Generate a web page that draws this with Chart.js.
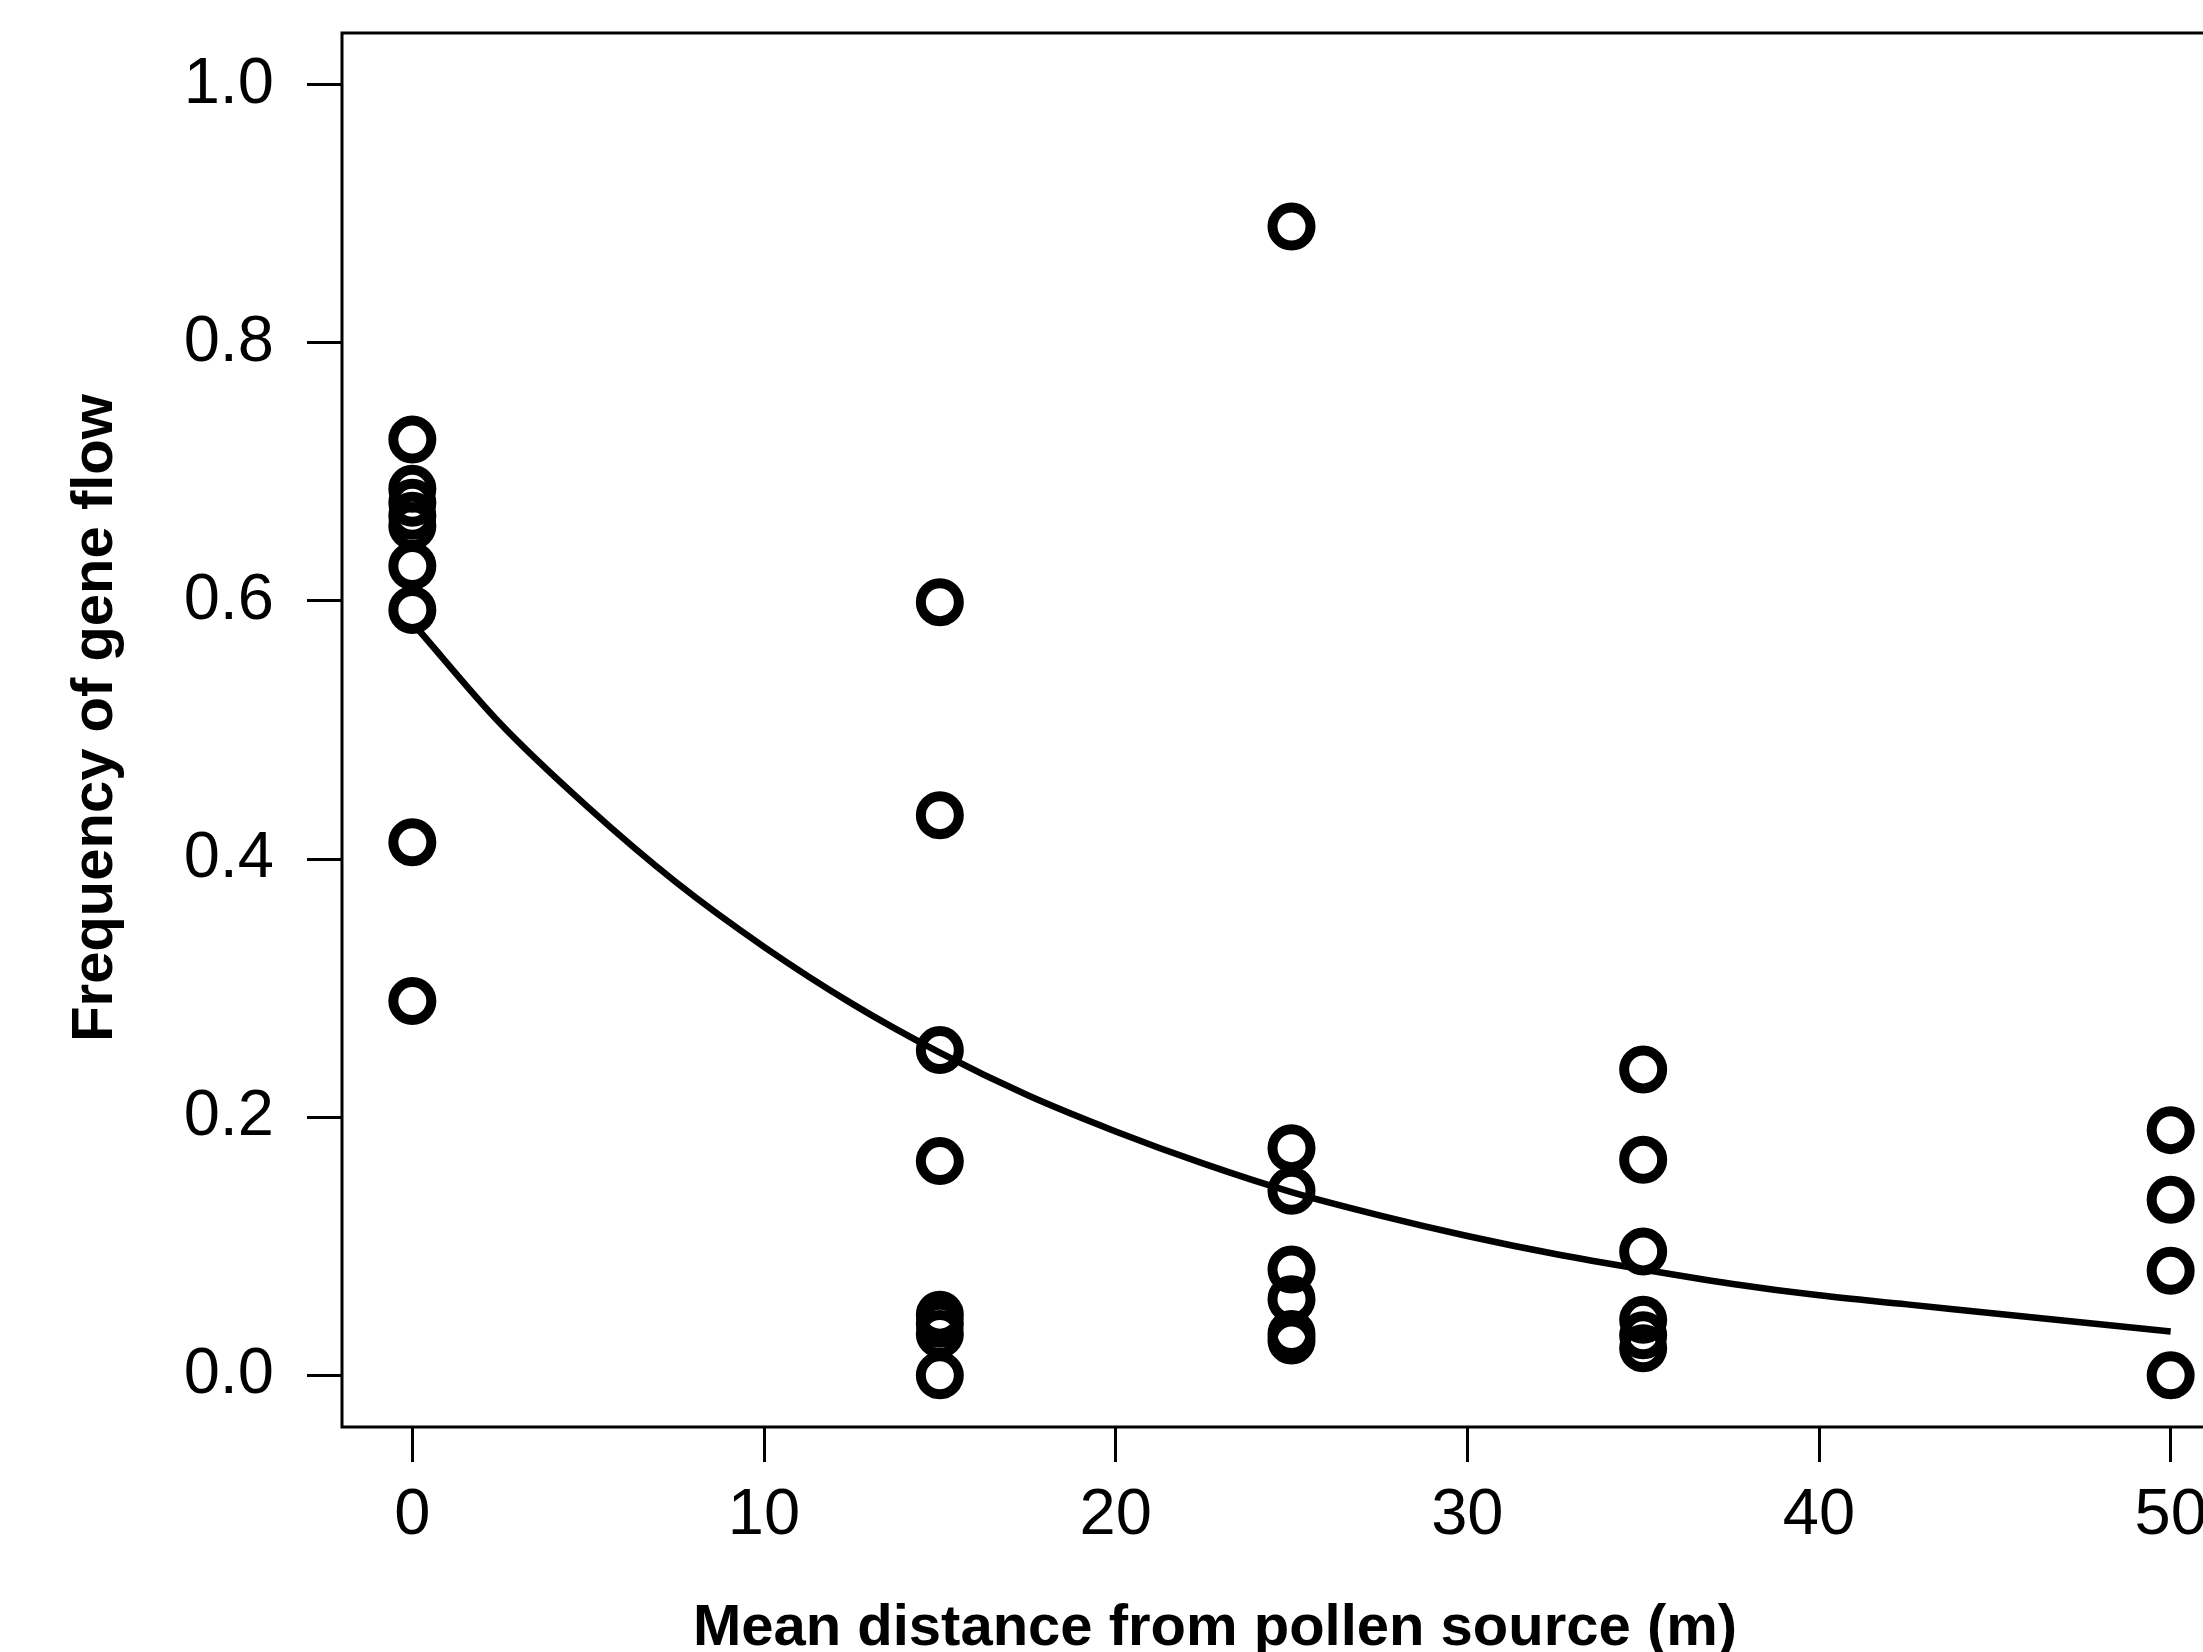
<!DOCTYPE html>
<html>
<head>
<meta charset="utf-8">
<script src="https://cdn.jsdelivr.net/npm/chart.js@4"></script>
<style>
html,body{margin:0;padding:0;background:#fff;overflow:hidden;width:2203px;height:1652px}
#wrap{width:2270px;height:1652px;position:relative}
</style>
</head>
<body>
<div id="wrap"><canvas id="c" width="2270" height="1652"></canvas></div>
<script>
// ---- data ----
const xTitle = 'Mean distance from pollen source (m)';
const yTitle = 'Frequency of gene flow';
const xTickValues = [0, 10, 20, 30, 40, 50];
const yTickValues = [0, 0.2, 0.4, 0.6, 0.8, 1.0];
const yTickLabels = ['0.0', '0.2', '0.4', '0.6', '0.8', '1.0'];

const obsDistance = [0, 0, 0, 0, 0, 0, 0, 0, 0,
                     15, 15, 15, 15, 15, 15, 15, 15,
                     25, 25, 25, 25, 25, 25, 25,
                     35, 35, 35, 35, 35, 35,
                     50, 50, 50, 50];
const obsFrequency = [0.725, 0.687, 0.676, 0.666, 0.658, 0.627, 0.593, 0.413, 0.290,
                      0.599, 0.434, 0.252, 0.166, 0.047, 0.040, 0.032, 0.0,
                      0.890, 0.176, 0.143, 0.082, 0.059, 0.032, 0.027,
                      0.237, 0.167, 0.096, 0.043, 0.031, 0.021,
                      0.190, 0.136, 0.081, 0.0];

const fitDistance = [0.1, 2.5, 5, 7.5, 10, 12.5, 15, 17.5, 20, 22.5, 25, 27.5, 30, 32.5, 35, 37.5, 40, 42.5, 45, 47.5, 50];
const fitFrequency = [0.580, 0.505, 0.440, 0.382, 0.332, 0.288, 0.250, 0.217, 0.189, 0.164, 0.142, 0.124, 0.108, 0.094, 0.082, 0.071, 0.062, 0.055, 0.048, 0.041, 0.034];

const obsPoints = obsDistance.map((x, i) => ({x: x, y: obsFrequency[i]}));
const fitPoints = fitDistance.map((x, i) => ({x: x, y: fitFrequency[i]}));

const FONT = "'Liberation Sans', Arial, Helvetica, sans-serif";

const framePlugin = {
  id: 'frame',
  beforeDatasetsDraw(chart) {
    const {ctx, chartArea: a} = chart;
    ctx.save();
    ctx.strokeStyle = '#000';
    ctx.lineWidth = 3;
    ctx.strokeRect(a.left, a.top, a.right - a.left, a.bottom - a.top);
    ctx.restore();
  },
  afterDraw(chart) {
    const {ctx, chartArea: a} = chart;
    ctx.save();
    ctx.fillStyle = '#000';
    ctx.font = 'bold 58px ' + FONT;
    ctx.textAlign = 'center';
    ctx.textBaseline = 'alphabetic';
    ctx.fillText(xTitle, a.left + 873, 1645);
    ctx.translate(112, a.top + 685);
    ctx.rotate(-Math.PI / 2);
    ctx.fillText(yTitle, 0, 0);
    ctx.restore();
  }
};

new Chart(document.getElementById('c'), {
  type: 'scatter',
  data: {
    datasets: [
      {
        type: 'line',
        data: fitPoints,
        borderColor: '#000',
        borderWidth: 6.5,
        pointRadius: 0,
        fill: false,
        tension: 0.4,
        cubicInterpolationMode: 'monotone',
        order: 0
      },
      {
        data: obsPoints,
        showLine: false,
        pointRadius: 19,
        pointHoverRadius: 19,
        pointBorderWidth: 10,
        pointBorderColor: '#000',
        pointBackgroundColor: 'rgba(0,0,0,0)',
        order: 1
      }
    ]
  },
  options: {
    responsive: false,
    devicePixelRatio: 1,
    animation: false,
    events: [],
    layout: {padding: {top: 33, right: 10, left: 0, bottom: 0}},
    plugins: {legend: {display: false}, tooltip: {enabled: false}},
    scales: {
      x: {
        type: 'linear',
        min: -2,
        max: 52,
        afterFit(scale) { scale.height = 225; scale.paddingLeft = 0; scale.paddingRight = 0; },
        afterBuildTicks(scale) { scale.ticks = xTickValues.map(v => ({value: v})); },
        border: {display: false},
        grid: {drawOnChartArea: false, drawTicks: true, tickLength: 35, tickWidth: 3, lineWidth: 3, tickColor: '#000', color: '#000'},
        ticks: {
          color: '#000',
          padding: 22,
          maxRotation: 0,
          autoSkip: false,
          font: {family: FONT, size: 65, lineHeight: 1},
          callback: (v) => String(v)
        },
        title: {display: false}
      },
      y: {
        type: 'linear',
        min: -0.04,
        max: 1.04,
        afterFit(scale) { scale.width = 342; scale.paddingTop = 0; scale.paddingBottom = 0; },
        afterBuildTicks(scale) { scale.ticks = yTickValues.map(v => ({value: v})); },
        border: {display: false},
        grid: {drawOnChartArea: false, drawTicks: true, tickLength: 35, tickWidth: 3, lineWidth: 3, tickColor: '#000', color: '#000'},
        ticks: {
          color: '#000',
          padding: 33,
          autoSkip: false,
          font: {family: FONT, size: 65, lineHeight: 1},
          callback: (v) => yTickLabels[yTickValues.findIndex(t => Math.abs(t - v) < 1e-9)]
        },
        title: {display: false}
      }
    }
  },
  plugins: [framePlugin]
});
</script>
</body>
</html>
